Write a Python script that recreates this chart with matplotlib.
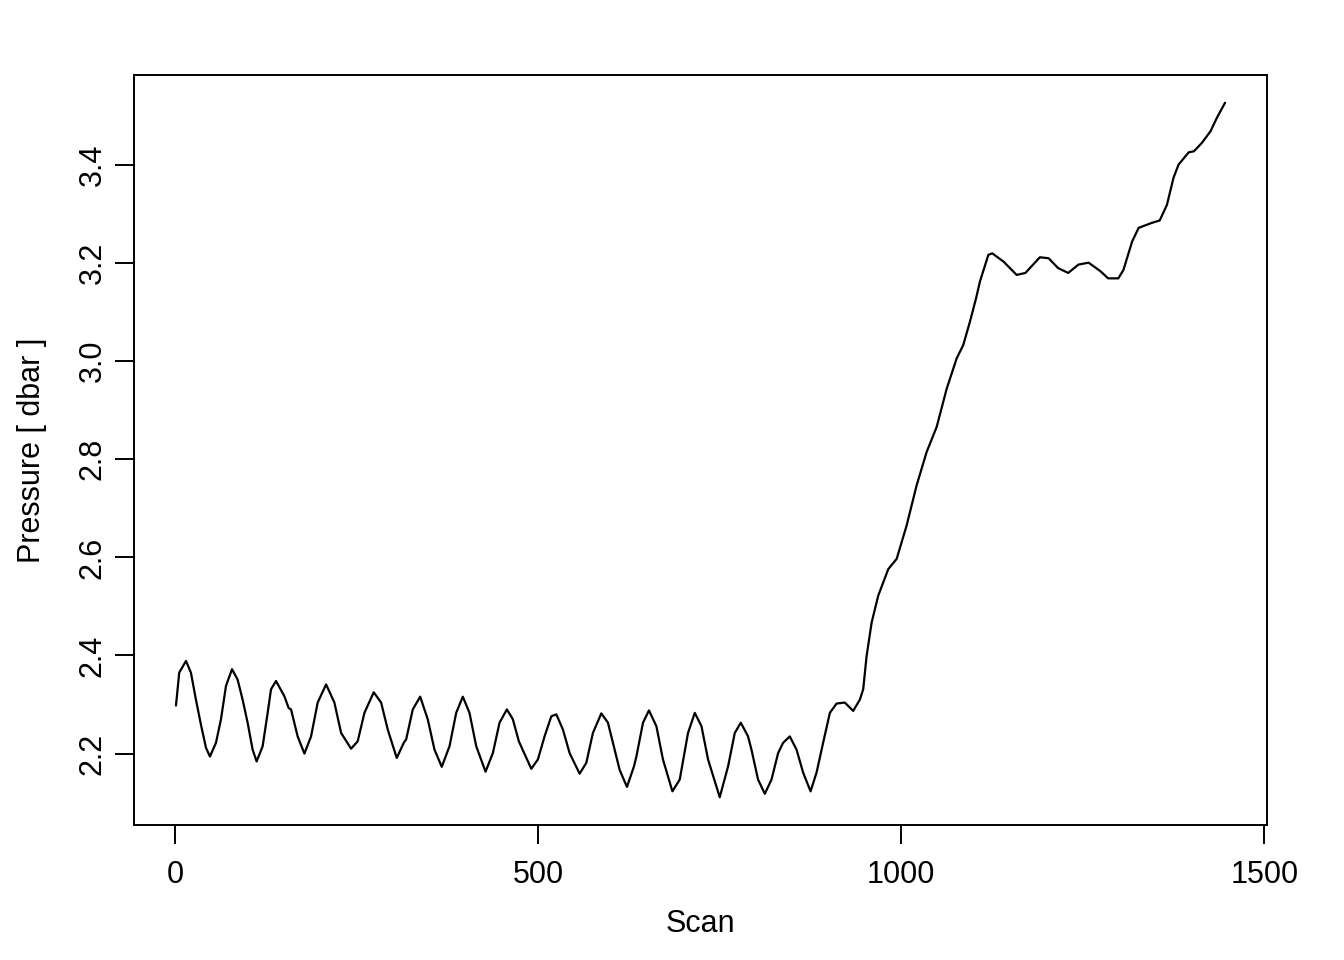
import matplotlib
matplotlib.use("Agg")
import matplotlib.pyplot as plt
import numpy as np

plt.rcParams["font.family"] = ["Liberation Sans", "DejaVu Sans"]

# scan index and pressure [dbar]
scan = [
    1, 5.5, 14.8, 21.6, 28.5, 35.4, 42.3, 47.8, 56.1, 63.0,
    69.9, 78.2, 85.9, 92.8, 99.7, 106.6, 112.1, 120.4, 127.3, 131.9,
    138.8, 150.3, 156.2, 159.5, 168.6, 177.9, 187.1, 196.2, 207.8, 219.2,
    228.5, 242.2, 251.3, 260.6, 273.4, 283.6, 292.7, 305.1, 314.8, 318.1,
    327.2, 337.4, 347.8, 357.1, 367.1, 377.8, 387.0, 396.1, 405.3, 414.6,
    427.4, 437.5, 446.7, 456.8, 465.0, 473.3, 490.4, 499.5, 508.7, 518.0,
    524.9, 534.0, 543.2, 557.0, 566.2, 575.3, 586.9, 596.0, 602.9, 612.1,
    622.2, 631.9, 635.2, 644.3, 652.5, 662.7, 671.8, 684.8, 694.9, 706.3,
    715.6, 724.8, 733.9, 750.0, 761.5, 770.7, 779.0, 789.0, 793.7, 802.8,
    812.1, 821.3, 830.4, 837.3, 846.5, 855.8, 864.9, 875.1, 883.3, 892.4,
    901.7, 910.9, 922.3, 933.8, 943.0, 947.6, 952.3, 959.2, 968.3, 982.1,
    993.7, 1007.4, 1021.2, 1035.0, 1048.8, 1062.6, 1076.4, 1085.4, 1094.7, 1103.0,
    1108.5, 1120.0, 1125.4, 1141, 1159, 1171, 1191, 1203, 1216, 1230,
    1244, 1258, 1274, 1285, 1299, 1306, 1318, 1327, 1345, 1356,
    1366, 1375, 1382, 1396, 1403, 1414, 1426, 1435, 1446,
]
pressure = [
    2.298, 2.365, 2.389, 2.365, 2.310, 2.259, 2.212, 2.194, 2.222, 2.270,
    2.338, 2.372, 2.351, 2.310, 2.263, 2.208, 2.184, 2.215, 2.283, 2.331,
    2.348, 2.317, 2.293, 2.290, 2.235, 2.200, 2.235, 2.304, 2.341, 2.304,
    2.242, 2.210, 2.225, 2.283, 2.325, 2.304, 2.249, 2.191, 2.222, 2.229,
    2.290, 2.316, 2.270, 2.208, 2.173, 2.215, 2.283, 2.316, 2.283, 2.215,
    2.163, 2.201, 2.263, 2.290, 2.270, 2.225, 2.169, 2.188, 2.235, 2.276,
    2.280, 2.249, 2.201, 2.159, 2.181, 2.242, 2.282, 2.263, 2.222, 2.167,
    2.132, 2.174, 2.194, 2.263, 2.288, 2.256, 2.188, 2.123, 2.147, 2.242,
    2.283, 2.256, 2.188, 2.111, 2.174, 2.242, 2.263, 2.235, 2.208, 2.147,
    2.118, 2.147, 2.201, 2.222, 2.235, 2.208, 2.161, 2.123, 2.161, 2.222,
    2.283, 2.302, 2.304, 2.287, 2.310, 2.331, 2.399, 2.467, 2.522, 2.576,
    2.597, 2.665, 2.747, 2.815, 2.866, 2.944, 3.006, 3.033, 3.081, 3.128,
    3.163, 3.217, 3.220, 3.203, 3.176, 3.180, 3.212, 3.210, 3.190, 3.180,
    3.197, 3.201, 3.184, 3.169, 3.169, 3.186, 3.244, 3.272, 3.282, 3.287,
    3.319, 3.374, 3.401, 3.426, 3.428, 3.445, 3.469, 3.497, 3.527,
]
x_ticks = [0, 500, 1000, 1500]
y_ticks = [2.2, 2.4, 2.6, 2.8, 3.0, 3.2, 3.4]

fig = plt.figure(figsize=(13.44, 9.6), dpi=100)
ax = fig.add_axes([134 / 1344, 1 - 825 / 960, (1267 - 134) / 1344, (825 - 75) / 960])

ax.plot(scan, pressure, color="black", linewidth=1.6,
        solid_joinstyle="round", solid_capstyle="round")

# R-style 4% padding around the data range
xr = max(scan) - min(scan)
yr = max(pressure) - min(pressure)
ax.set_xlim(min(scan) - 0.04 * xr, max(scan) + 0.04 * xr)
ax.set_ylim(min(pressure) - 0.04 * yr, max(pressure) + 0.04 * yr)

ax.set_xticks(x_ticks)
ax.set_xticklabels([str(t) for t in x_ticks])
ax.set_yticks(y_ticks)
ax.set_yticklabels([f"{t:.1f}" for t in y_ticks], rotation=90, va="center")
ax.tick_params(direction="out", length=14, width=1.4, labelsize=22)
ax.tick_params(axis="x", pad=11)
ax.tick_params(axis="y", pad=5)

for s in ax.spines.values():
    s.set_linewidth(1.4)

ax.set_xlabel("Scan", fontsize=22, labelpad=14)
ax.set_ylabel("Pressure [ dbar ]", fontsize=22, labelpad=22)

fig.savefig("out.png", dpi=100)
